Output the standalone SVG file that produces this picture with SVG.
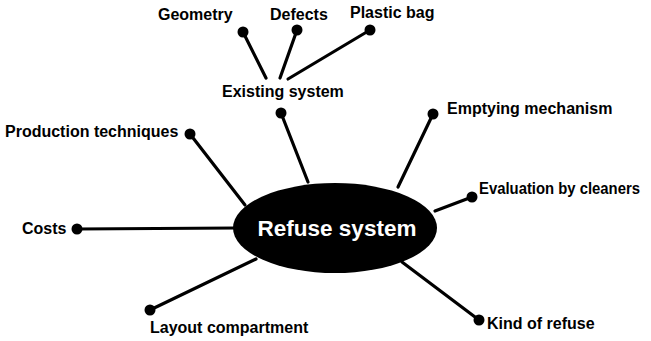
<svg xmlns="http://www.w3.org/2000/svg" width="651" height="341" viewBox="0 0 651 341">
  <style>
    .lbl { font-family: "Liberation Sans", Arial, sans-serif; font-weight: bold; font-size: 16px; fill: #000; }
    .hub { font-family: "Liberation Sans", Arial, sans-serif; font-weight: bold; font-size: 22.5px; fill: #fff; }
    .link { stroke: #000; stroke-width: 3.2; stroke-linecap: round; fill: none; }
    .dot { fill: #000; }
  </style>
  <rect width="651" height="341" fill="#fff"/>

  <!-- spokes -->
  <g id="connectors">
    <line class="link" x1="243" y1="32" x2="266" y2="78"/>
    <line class="link" x1="297" y1="30" x2="280" y2="78"/>
    <line class="link" x1="370" y1="30" x2="288" y2="79"/>
    <line class="link" x1="281" y1="113" x2="308" y2="182"/>
    <line class="link" x1="190" y1="134" x2="245" y2="205"/>
    <line class="link" x1="77" y1="229" x2="236" y2="228"/>
    <line class="link" x1="433" y1="114" x2="398" y2="187"/>
    <line class="link" x1="472" y1="197" x2="435" y2="211"/>
    <line class="link" x1="150" y1="310" x2="256" y2="259"/>
    <line class="link" x1="479" y1="320" x2="402" y2="262"/>
  </g>

  <g id="refuse-system">
    <ellipse cx="335" cy="228" rx="102" ry="45" fill="#000"/>
    <text class="hub" x="337" y="236" text-anchor="middle">Refuse system</text>
  </g>

  <g id="geometry">
    <circle class="dot" cx="243" cy="32" r="5.5"/>
    <text class="lbl" x="158" y="20">Geometry</text>
  </g>
  <g id="defects">
    <circle class="dot" cx="297" cy="30" r="5.5"/>
    <text class="lbl" x="270" y="20">Defects</text>
  </g>
  <g id="plastic-bag">
    <circle class="dot" cx="370" cy="30" r="5.5"/>
    <text class="lbl" x="350" y="18">Plastic bag</text>
  </g>
  <g id="existing-system">
    <circle class="dot" cx="281" cy="113" r="5.5"/>
    <text class="lbl" x="222" y="97">Existing system</text>
  </g>
  <g id="production-techniques">
    <circle class="dot" cx="190" cy="134" r="5.5"/>
    <text class="lbl" x="5" y="137">Production techniques</text>
  </g>
  <g id="costs">
    <circle class="dot" cx="77" cy="229" r="5.5"/>
    <text class="lbl" x="22" y="234">Costs</text>
  </g>
  <g id="emptying-mechanism">
    <circle class="dot" cx="433" cy="114" r="5.5"/>
    <text class="lbl" x="447" y="114">Emptying mechanism</text>
  </g>
  <g id="evaluation-by-cleaners">
    <circle class="dot" cx="472" cy="197" r="5.5"/>
    <text class="lbl" x="479" y="194" font-size="15" textLength="161" lengthAdjust="spacingAndGlyphs">Evaluation by cleaners</text>
  </g>
  <g id="layout-compartment">
    <circle class="dot" cx="150" cy="310" r="5.5"/>
    <text class="lbl" x="150" y="333">Layout compartment</text>
  </g>
  <g id="kind-of-refuse">
    <circle class="dot" cx="479" cy="320" r="5.5"/>
    <text class="lbl" x="487" y="329">Kind of refuse</text>
  </g>
</svg>
